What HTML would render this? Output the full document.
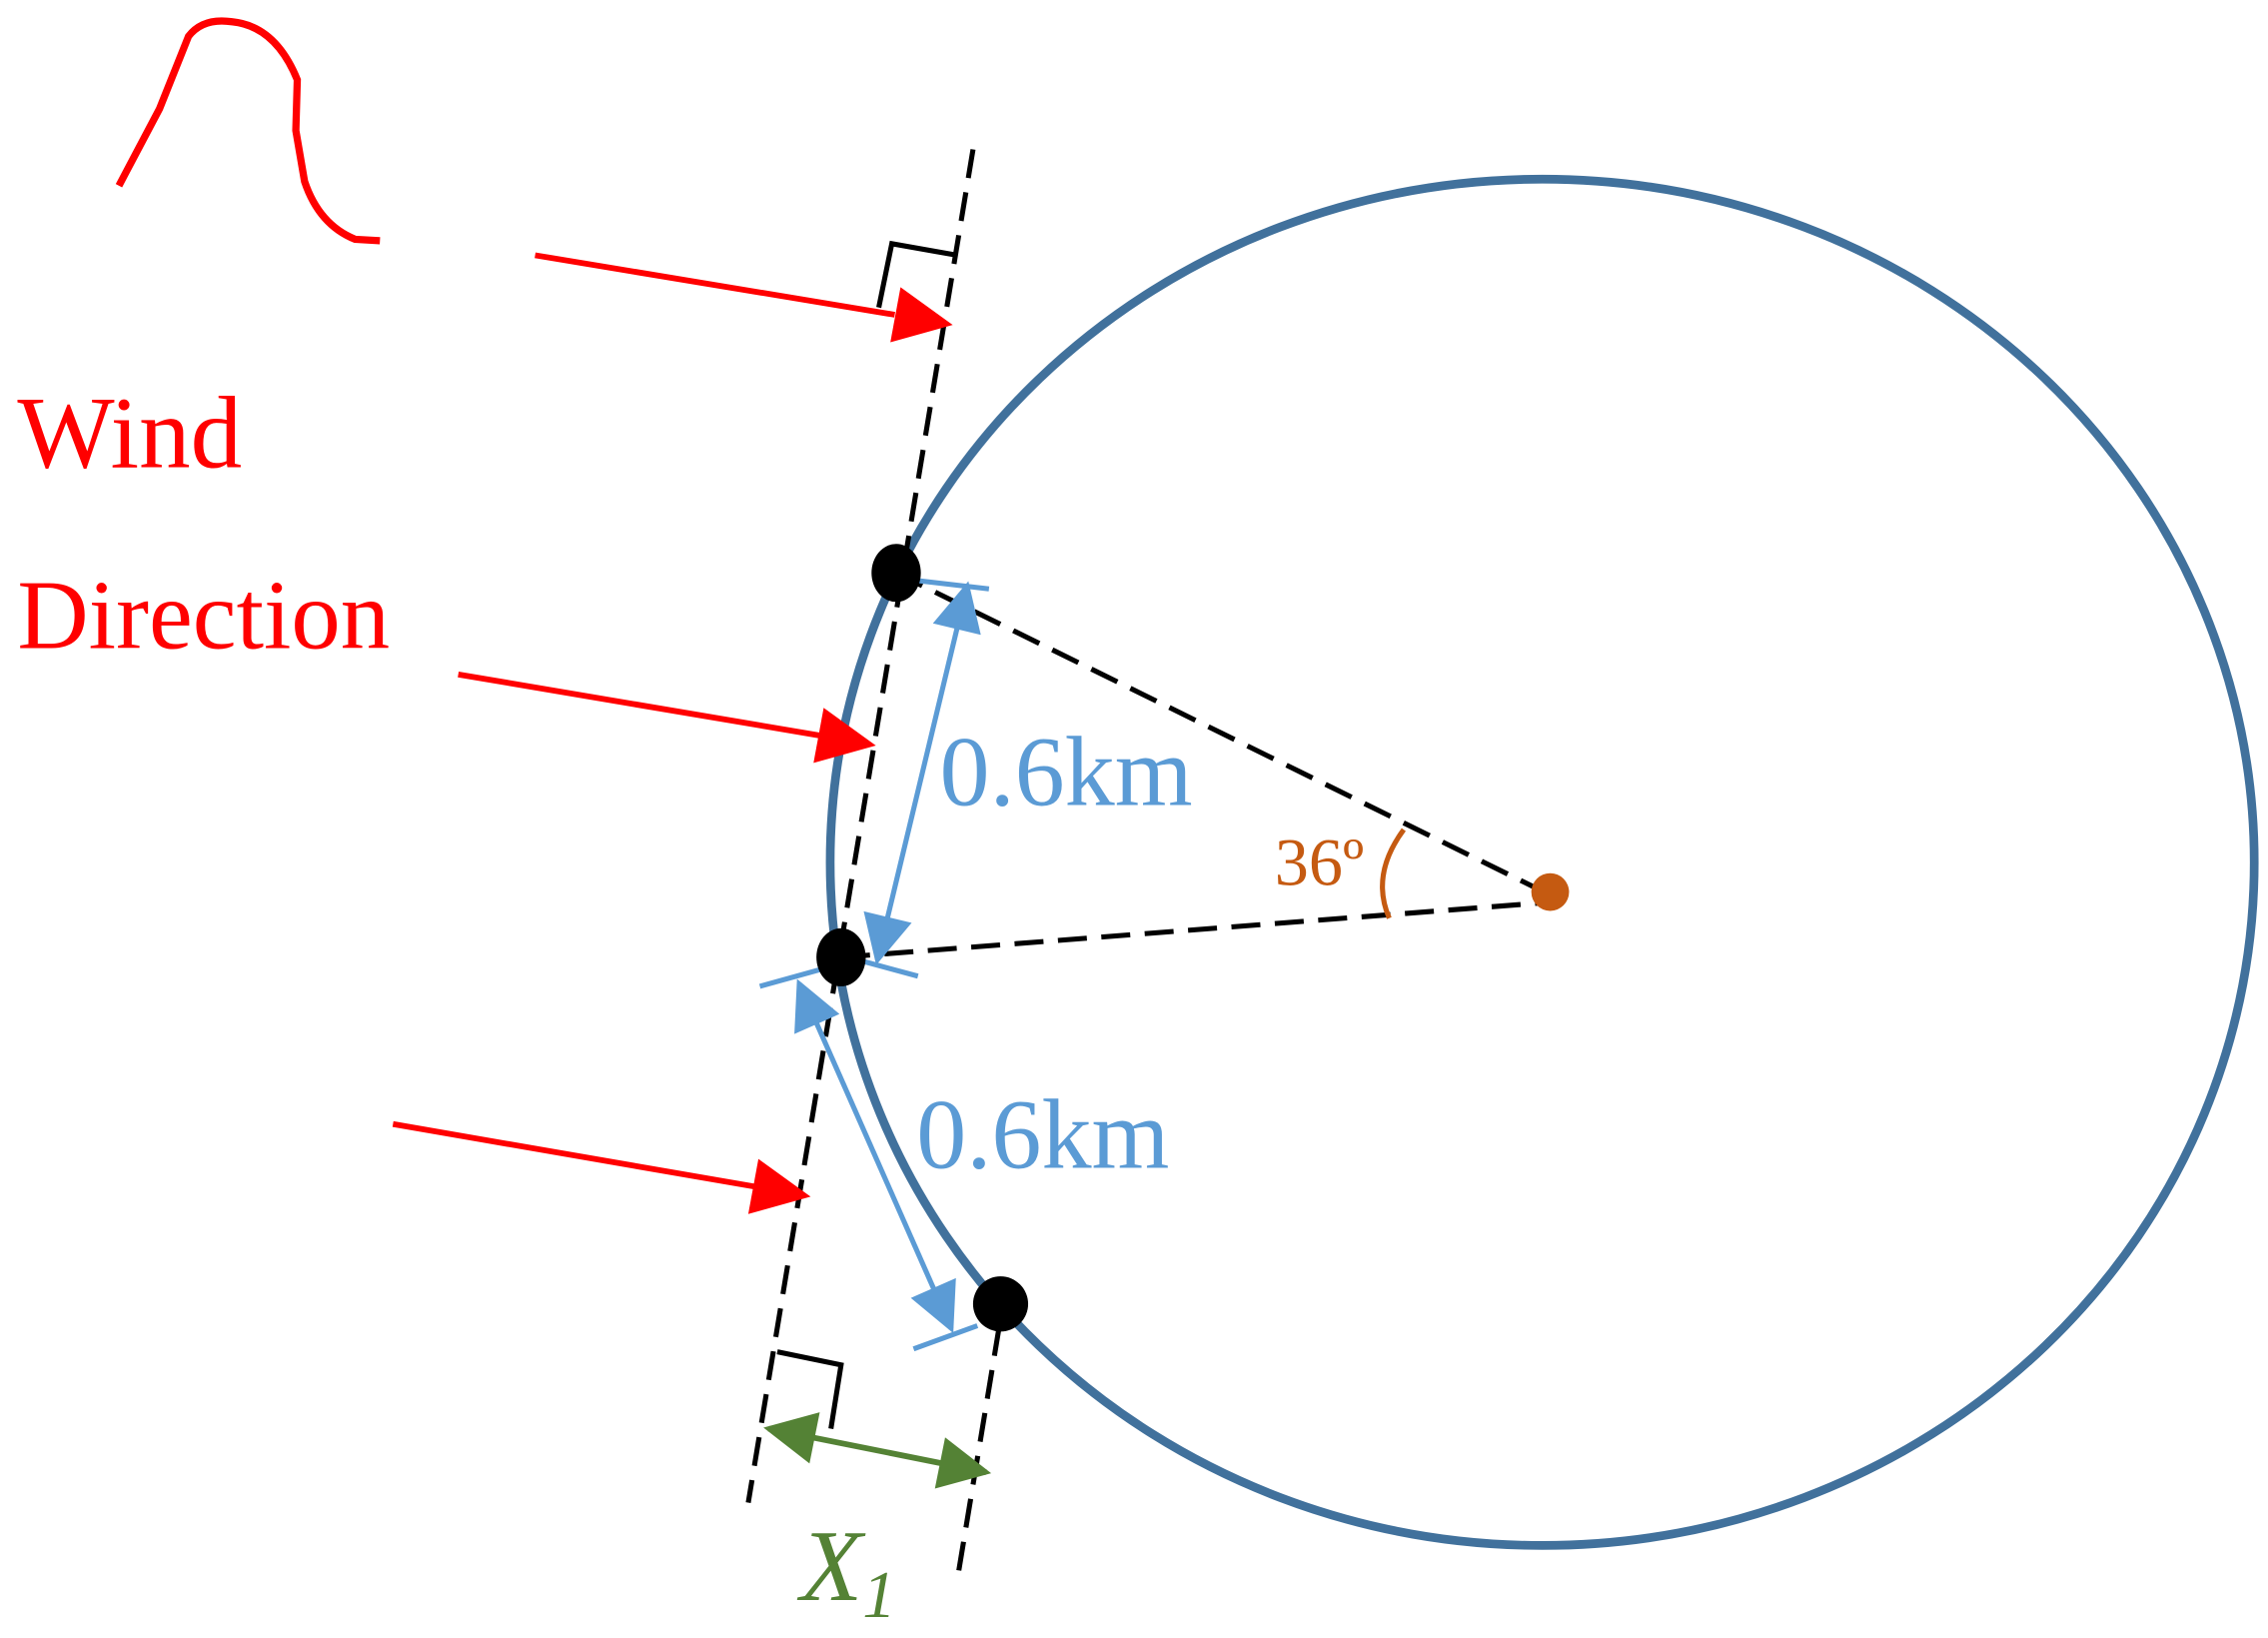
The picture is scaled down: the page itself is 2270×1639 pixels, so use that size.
<!DOCTYPE html>
<html><head><style>html,body{margin:0;padding:0;background:#fff}svg{display:block}</style></head>
<body>
<svg width="2270" height="1639" viewBox="0 0 1564 1129.3" preserveAspectRatio="none" xmlns="http://www.w3.org/2000/svg">
<defs>
<marker id="b" viewBox="0 0 10 10" refX="9" refY="5" markerWidth="42" markerHeight="34" orient="auto-start-reverse" markerUnits="userSpaceOnUse"><path d="M0,0L10,5L0,10z" fill="#5b9bd5"/></marker>
<marker id="g" viewBox="0 0 10 10" refX="9" refY="5" markerWidth="44" markerHeight="36" orient="auto-start-reverse" markerUnits="userSpaceOnUse"><path d="M0,0L10,5L0,10z" fill="#548235"/></marker>
</defs>
<ellipse cx="1063.5" cy="594.5" rx="491" ry="471" fill="none" stroke="#41719c" stroke-width="6"/>
<path d="M82,128 L110,75 L130,25 Q140,12 160,15 Q190,18 205,55 L204,90 L210,125 Q220,155 245,165 L262,166" fill="none" stroke="#ff0000" stroke-width="5"/>
<g stroke="#000" stroke-width="3.5" stroke-dasharray="20,10" fill="none">
<line x1="671" y1="103" x2="516" y2="1036"/>
<line x1="689" y1="915" x2="660" y2="1090"/>
<line x1="618" y1="395" x2="1075" y2="620"/>
<line x1="580" y1="660" x2="1069" y2="622"/>
</g>
<g stroke="#000" stroke-width="3.5" fill="none">
<polyline points="606,212 615,168 660,176"/>
<polyline points="536,932 580,941 573,985"/>
</g>
<line x1="369" y1="176" x2="617" y2="217" stroke="#ff0000" stroke-width="4"/>
<path d="M657,224 L614,236 L621,198z" fill="#ff0000"/>
<line x1="316" y1="465" x2="565" y2="507" stroke="#ff0000" stroke-width="4"/>
<path d="M604,514 L561,526 L568,488z" fill="#ff0000"/>
<line x1="271" y1="775" x2="520" y2="818" stroke="#ff0000" stroke-width="4"/>
<path d="M559,825 L516,837 L523,799z" fill="#ff0000"/>
<g stroke="#5b9bd5" stroke-width="3.5">
<line x1="667" y1="404" x2="605" y2="662" marker-start="url(#b)" marker-end="url(#b)"/>
<line x1="630" y1="400" x2="682" y2="406"/>
<line x1="585" y1="660" x2="633" y2="673"/>
<line x1="524" y1="680" x2="578" y2="665"/>
<line x1="551" y1="678" x2="656" y2="916" marker-start="url(#b)" marker-end="url(#b)"/>
<line x1="630" y1="930" x2="674" y2="914"/>
</g>
<line x1="530" y1="985" x2="680" y2="1015" stroke="#548235" stroke-width="4" marker-start="url(#g)" marker-end="url(#g)"/>
<ellipse cx="618" cy="395" rx="17" ry="20" fill="#000"/>
<ellipse cx="580" cy="660" rx="17" ry="20" fill="#000"/>
<circle cx="690" cy="899" r="19" fill="#000"/>
<circle cx="1069" cy="615" r="13" fill="#c55a11"/>
<path d="M968,572 Q945,603 958,633" fill="none" stroke="#c55a11" stroke-width="3.5"/>
<g font-family="Liberation Serif, serif">
<text x="12" y="322" font-size="71" fill="#ff0000">Wind</text>
<text x="12" y="447" font-size="68" fill="#ff0000">Direction</text>
<text x="648" y="555" font-size="69" fill="#5b9bd5">0.6km</text>
<text x="632" y="805" font-size="69" fill="#5b9bd5">0.6km</text>
<text x="879" y="610" font-size="47" fill="#c55a11">36º</text>
<text x="552" y="1103" font-size="70" font-style="italic" fill="#548235">X<tspan font-size="46" dy="12">1</tspan></text>
</g>
</svg>
</body></html>
